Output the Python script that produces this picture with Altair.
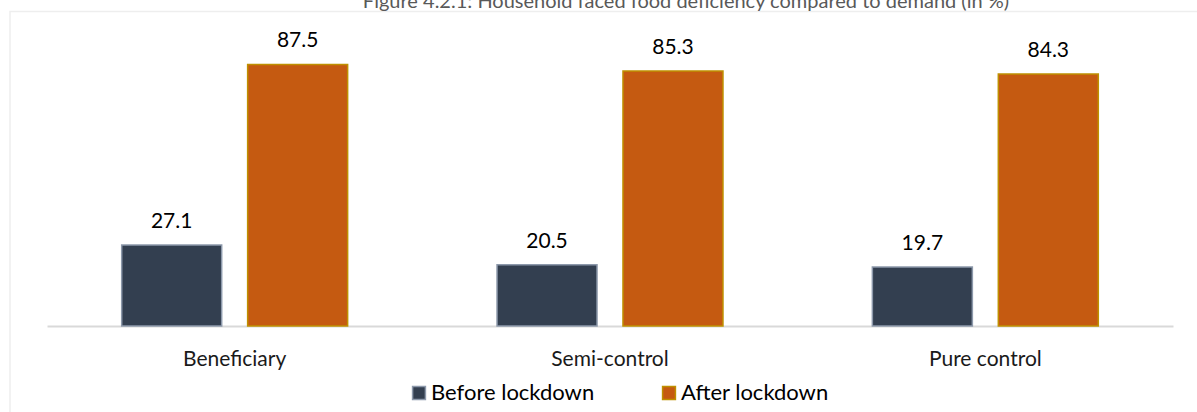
import altair as alt
import pandas as pd

# Share of households facing food deficiency compared to demand (%)
groups = ["Beneficiary", "Semi-control", "Pure control"]
periods = ["Before lockdown", "After lockdown"]
before = [27.1, 20.5, 19.7]
after = [87.5, 85.3, 84.3]

rows = []
for g, b, a in zip(groups, before, after):
    rows.append({"group": g, "period": periods[0], "value": b})
    rows.append({"group": g, "period": periods[1], "value": a})
df = pd.DataFrame(rows)

FONT = "Lato"
W, H = 1126, 299

x = alt.X("group:N", sort=groups, title=None,
          scale=alt.Scale(paddingInner=0, paddingOuter=0),
          axis=alt.Axis(labelAngle=0, labelFontSize=21, labelColor="#1a1a1a",
                        labelFont=FONT, labelBaseline="alphabetic",
                        labelPadding=39, ticks=False, tickSize=0,
                        domainColor="#d9d9d9", domainWidth=2))
xo = alt.XOffset("period:N", sort=periods,
                 scale=alt.Scale(paddingInner=0.206, paddingOuter=0.593))
y = alt.Y("value:Q", scale=alt.Scale(domain=[0, 100]), axis=None)

color = alt.Color(
    "period:N", sort=periods,
    scale=alt.Scale(domain=periods, range=["#333f50", "#c55a11"]),
    legend=alt.Legend(title=None, orient="none", direction="horizontal",
                      legendX=361, legendY=355, symbolType="square",
                      symbolSize=165, symbolStrokeWidth=1.5,
                      labelFontSize=22, labelFont=FONT, labelColor="#000000",
                      labelLimit=400, labelOffset=1, columnPadding=63),
)
stroke = alt.Stroke("period:N", sort=periods,
                    scale=alt.Scale(domain=periods, range=["#8d99ab", "#bf9000"]),
                    legend=None)

bars = alt.Chart(df).mark_bar(strokeWidth=1.5).encode(
    x=x, xOffset=xo, y=y, color=color, stroke=stroke
)

labels = alt.Chart(df).mark_text(
    baseline="alphabetic", dy=-17, fontSize=21, font=FONT, color="#000000"
).encode(x=x, xOffset=xo, y=y, text=alt.Text("value:Q", format=".1f"))

# light chart-area border
frame = alt.Chart(pd.DataFrame({"a": [0]})).mark_rect(
    fill=None, stroke="#eeeeee", strokeWidth=1.5
).encode(x=alt.value(-37), x2=alt.value(W + 60),
         y=alt.value(-15.5), y2=alt.value(H + 120))

title = alt.Chart(pd.DataFrame({"t": ["Figure 4.2.1: Household faced food deficiency compared to demand (in %)"]})).mark_text(
    baseline="alphabetic", align="center", fontSize=20, font=FONT, color="#595959"
).encode(x=alt.value(639), y=alt.value(-19), text="t:N")

chart = alt.layer(frame, bars, labels, title).properties(
    width=W, height=H,
    autosize=alt.AutoSizeParams(type="none"),
    padding={"left": 47, "top": 27, "right": 24, "bottom": 86},
).configure_view(stroke=None, clip=False)

chart.save("out.html", embed_options={"renderer": "svg", "actions": False})
